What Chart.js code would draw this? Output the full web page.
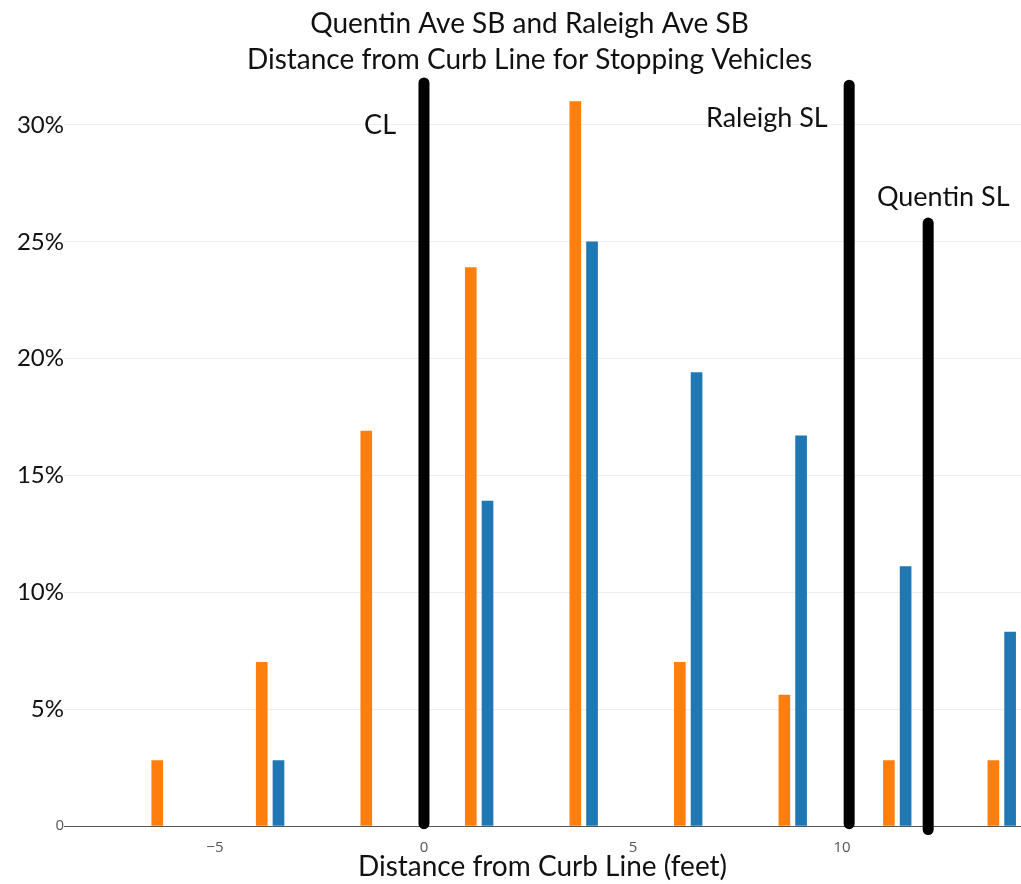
<!DOCTYPE html>
<html>
<head>
    <title>Distance from Curb Line for Stopping Vehicles</title>
    <script src="https://cdn.jsdelivr.net/npm/chart.js"></script>
    <style>
        body {
            margin: 0;
            background: #fff;
        }
        #wrap {
            width: 1021px;
            height: 884px;
        }
    </style>
</head>
<body>
    <div id="wrap"><canvas id="curbChart"></canvas></div>

    <script>
        // Raleigh Ave SB (orange) and Quentin Ave SB (blue), share of stops per bin (%)
        const raleighX = [-6.38, -3.88, -1.38, 1.12, 3.62, 6.12, 8.62, 11.12, 13.62];
        const raleighPct = [2.8, 7.0, 16.9, 23.9, 31.0, 7.0, 5.6, 2.8, 2.8];
        const quentinX = [-3.48, 1.52, 4.02, 6.52, 9.02, 11.52, 14.02];
        const quentinPct = [2.8, 13.9, 25.0, 19.4, 16.7, 11.1, 8.3];

        // reference lines: curb line and the two stop lines
        const refLineX = [0, 10.17, 12.06];
        const refLineTop = [31.8, 31.7, 25.8];
        const refLineBottom = [0.1, 0.1, -0.15];
        const refLabels = ["CL", "Raleigh SL", "Quentin SL"];
        const refLabelX = [-1.05, 8.2, 12.42];
        const refLabelY = [30.0, 30.3, 26.9];

        const xTicks = [-5, 0, 5, 10];
        const yTicks = [0, 5, 10, 15, 20, 25, 30];

        const refDatasets = refLineX.map((x, i) => ({
            type: "line",
            label: refLabels[i],
            data: [{ x: x, y: refLineBottom[i] }, { x: x, y: refLineTop[i] }],
            borderColor: "#000",
            borderWidth: 11,
            borderCapStyle: "round",
            pointRadius: 0,
            clip: false,
            order: 0
        }));

        const refText = {
            id: "refText",
            afterLayout(chart) {
                // title sits a little right of the page centre
                chart.titleBlock.left += 38;
            },
            afterDatasetsDraw(chart) {
                const { ctx, scales } = chart;
                ctx.save();
                ctx.font = "27px Lato";
                ctx.fillStyle = "#111";
                ctx.textAlign = "center";
                ctx.textBaseline = "middle";
                refLabels.forEach((t, i) => {
                    ctx.fillText(t, scales.x.getPixelForValue(refLabelX[i]), scales.y.getPixelForValue(refLabelY[i]));
                });
                ctx.restore();
            }
        };

        new Chart(document.getElementById("curbChart"), {
            data: {
                datasets: [
                    {
                        type: "bar",
                        label: "Raleigh Ave SB",
                        data: raleighX.map((x, i) => ({ x: x, y: raleighPct[i] })),
                        backgroundColor: "#ff7f0e",
                        barThickness: 11,
                        grouped: false,
                        order: 1
                    },
                    {
                        type: "bar",
                        label: "Quentin Ave SB",
                        data: quentinX.map((x, i) => ({ x: x, y: quentinPct[i] })),
                        backgroundColor: "#1f77b4",
                        barThickness: 11,
                        grouped: false,
                        order: 1
                    },
                    ...refDatasets
                ]
            },
            plugins: [refText],
            options: {
                responsive: true,
                maintainAspectRatio: false,
                animation: false,
                layout: { padding: { left: 0, right: 0, top: 0, bottom: 0 } },
                plugins: {
                    legend: { display: false },
                    tooltip: { enabled: false },
                    title: {
                        display: true,
                        text: ["Quentin Ave SB and Raleigh Ave SB", "Distance from Curb Line for Stopping Vehicles"],
                        color: "#111",
                        font: { family: "Lato", size: 28, weight: "normal", lineHeight: 1.29 },
                        padding: { top: 6, bottom: 0 }
                    }
                },
                scales: {
                    x: {
                        type: "linear",
                        offset: false,
                        min: -8.61,
                        max: 14.28,
                        grid: { display: false },
                        border: { display: true, color: "#555", width: 1 },
                        afterBuildTicks: (scale) => {
                            scale.ticks = xTicks.map(v => ({ value: v }));
                        },
                        ticks: {
                            color: "#555",
                            font: { family: "Open Sans", size: 15 },
                            padding: 5,
                            callback: (v) => (v < 0 ? "\u2212" + Math.abs(v) : String(v))
                        },
                        title: {
                            display: true,
                            text: "Distance from Curb Line (feet)",
                            color: "#111",
                            font: { family: "Lato", size: 28 },
                            padding: { top: 0, bottom: 0 }
                        },
                        afterFit: (scale) => { scale.height = 58; }
                    },
                    y: {
                        min: 0,
                        max: 32,
                        grid: { color: "#eeeeee", drawTicks: false },
                        border: { display: false },
                        afterBuildTicks: (scale) => {
                            scale.ticks = yTicks.map(v => ({ value: v }));
                        },
                        ticks: {
                            padding: 0,
                            color: (c) => (c.tick && c.tick.value === 0 ? "#555" : "#111"),
                            font: (c) => (c.tick && c.tick.value === 0
                                ? { family: "Open Sans", size: 15 }
                                : { family: "Lato", size: 24 }),
                            callback: (v) => (v === 0 ? "0" : v + "%")
                        },
                        afterFit: (scale) => { scale.width = 64; }
                    }
                }
            }
        });
    </script>
</body>
</html>
